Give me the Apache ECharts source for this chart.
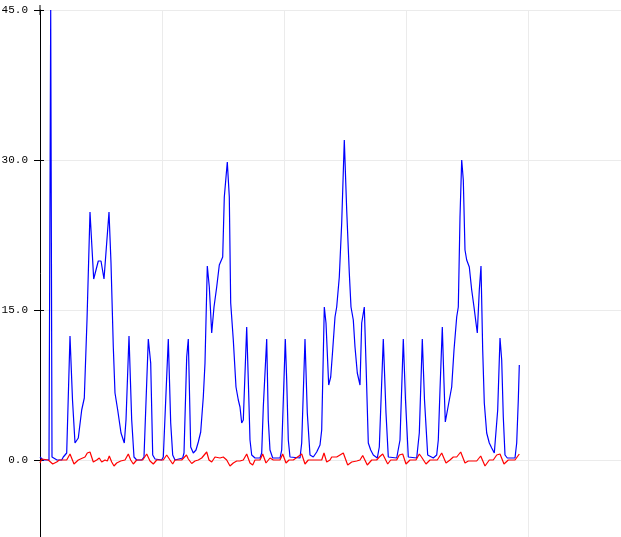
<!DOCTYPE html>
<html>
<head>
<meta charset="utf-8">
<script src="https://cdn.jsdelivr.net/npm/echarts@6/dist/echarts.min.js"></script>
<style>
html,body{margin:0;padding:0;background:#fff;}
#chart{width:621px;height:537px;}
</style>
</head>
<body>
<div id="chart"></div>
<script>
// y-axis tick values (labels formatted with one decimal)
var yTicks = [0, 15, 30, 45];

// blue series
var blueX = [0,3,9,10.7,12,14,17,21.7,23.3,25,26.7,30,32.5,35,38.3,41.7,44.3,47,50,53.7,55.7,58.3,61,64,65.7,69,71,73.3,75,77.7,81,84.3,86,89,91.7,94,96.7,101.7,104,108.3,110.7,112.7,115,121.7,123.3,128.3,130.7,132.7,135,142.7,144,146.7,148.3,150.7,153.3,156,158.3,160.7,163.3,165,167.3,169.3,171.7,174,176.7,179.3,182.7,184.3,187.3,189.3,190.7,193.3,196,198.3,200,201.7,203.3,206.7,208.3,210,211.7,215,220,221.7,223.3,226.7,228.3,230,232.7,240,241.7,245.3,246.7,248.3,250,260,261.7,265,267.3,270,273.3,276.7,280,281.7,284.3,286,288.7,290.7,292.7,295,296.7,299.3,301.7,304.3,306.7,309.3,311,313.3,315,317.3,320,321.7,324.3,326,328.3,330.7,333.3,337.3,339.3,343.3,346,348.3,356.7,360,363.3,365.5,368.3,376.7,379.3,382.3,384.5,387.7,393.3,396.7,398.3,400,402.3,404,405.3,407.3,409.3,411.7,414,416.7,418.3,420,421.7,423.3,425,426.7,429.3,431.7,434,436,437.3,439.3,441,442.7,444.3,446.7,449.3,451.7,454.3,456,457.7,460,461.7,463.3,465,467.3,475,476.7,478.3,479.3];
var blueY = [0.3,0,0,45,0.3,0.2,0,0,0.3,0.1,0.7,12.4,6,1.7,2.2,5,6.2,14,24.8,18.1,18.1,19.9,19.9,18.1,18.1,24.8,19.7,11.3,6.7,5,2.7,1.7,4,12.4,4,0.3,0,0,0.3,12.1,9.7,0.5,0.1,0,0.3,12.1,3.7,0.5,0,0.2,0.7,10.3,12.1,1.3,0.7,1,1.8,2.8,6.3,9.7,19.4,17.3,12.7,15.3,17.3,19.5,20.3,26.3,29.8,26.3,15.7,12,7.3,6,5.3,3.7,4,13.3,8,2,0.5,0.2,0.2,0.7,5.3,12.1,4,1,0.2,0.2,1,12.1,8,2,0.3,0.2,1.7,12.1,4.7,0.5,0.3,0.8,1.5,3,15.3,13.7,7.5,8.3,11,14.3,15.3,18.3,23.7,32,25,18.7,15.3,14,11.3,8.7,7.5,13.7,15.3,9.7,1.7,1,0.5,0.2,1.3,12.1,4.7,0.3,0.2,2,12.1,6,0.3,0.2,2.7,12.1,6,0.5,0.2,0.5,2,7,13.3,7.7,3.8,3.7,6,7.3,11,14.3,15.3,24.3,30,28,21,20,19.3,17,15.3,13.7,12.7,17,19.4,11,5.7,2.7,1.7,1.2,0.7,0.7,5,12.2,10,4.3,0.5,0.2,0.2,1.7,6,9.5];

// red series
var redX = [0,1.7,8.3,12.7,16.7,19.3,26.7,30,34,38.3,42.7,45,47.3,50,53.3,56.7,59.3,61.7,65,67.3,69.3,71.7,74,76.7,80.7,85,88.3,90.7,93.3,96.7,102.7,106.7,110,113.3,116.7,123.3,126.7,130,132.7,135,141.7,146.5,148.3,151.7,155,158.3,161.7,166.7,169,171.7,175,180,183.3,186.7,190,193.3,196.7,200,203.3,206.7,210,212.7,215,220,222.7,226,230,233.3,240,242.7,246,249,253.3,261.7,265,268.3,281.7,284,286.7,290,291.7,296.7,303.3,307.7,311.7,316.7,320,322.7,327.3,331.7,336.7,339.3,342.7,347.7,350.7,356.7,359.3,362.7,366,370,376,379.3,381.5,386,390,397.3,401.7,406,410,413.3,416.7,420.7,425,428.3,436.7,440.7,445,449.3,453.3,456.7,460,464,468.3,475,479.3];
var redY = [-0.3,0.1,0,-0.4,-0.2,0,0,0.6,-0.4,0,0.2,0.3,0.7,0.8,-0.2,0,0.2,-0.2,0,-0.1,0.4,-0.2,-0.6,-0.3,-0.1,0,0.6,0,-0.4,0,0,0.6,-0.1,-0.4,0,0,0.5,0,-0.4,0,0,0.5,0.1,-0.35,-0.1,0,0.2,0.8,0,-0.2,0.3,0.2,0.3,0,-0.6,-0.3,-0.1,-0.1,0,0.6,-0.3,-0.5,0,0,0.6,-0.3,0.2,0,0,0.6,-0.3,0,0,0.6,-0.4,0,0,0.7,-0.2,0,0.3,0.3,0.7,-0.5,-0.2,-0.1,0,0.45,-0.5,0,0,0.3,0.6,-0.4,0,0,0.5,0.6,-0.4,0,0,0.6,0.3,-0.4,0,0,0.7,-0.3,0,0.3,0.3,0.8,-0.3,-0.1,-0.1,0.4,-0.6,0,0,0.5,0.6,-0.4,0,0,0.6];

function pairs(xs, ys) {
  var out = [];
  for (var i = 0; i < xs.length; i++) out.push([xs[i], ys[i]]);
  return out;
}

var chart = echarts.init(document.getElementById('chart'), null, {renderer: 'canvas'});
var gridColor = '#ebebeb';
chart.setOption({
  animation: false,
  backgroundColor: '#ffffff',
  grid: {left: 40, top: 10, width: 591, height: 600, containLabel: false, outerBoundsMode: 'none'},
  xAxis: {
    type: 'value', min: 0, max: 591, interval: 122,
    axisLine: {show: false}, axisTick: {show: false}, axisLabel: {show: false},
    splitLine: {show: true, lineStyle: {color: gridColor, width: 1}}
  },
  yAxis: [{
    type: 'value', min: -15, max: 45, interval: 15, position: 'left',
    axisLine: {show: true, onZero: false, symbol: ['none', 'rect'], symbolSize: [1, 10],
      lineStyle: {color: '#000', width: 1}},
    axisTick: {show: true, inside: false, length: 6, lineStyle: {color: '#000', width: 1}},
    axisLabel: {show: true, margin: 12, color: '#000', fontFamily: 'Liberation Mono', fontSize: 11,
      formatter: function (v) { return yTicks.indexOf(v) >= 0 ? v.toFixed(1) : ''; }},
    splitLine: {show: true, lineStyle: {color: gridColor, width: 1}}
  }, {
    type: 'value', min: -15, max: 45, interval: 15, position: 'left', offset: 0,
    axisLine: {show: false},
    axisTick: {show: true, inside: true, length: 4, lineStyle: {color: '#000', width: 1}},
    axisLabel: {show: false},
    splitLine: {show: false}
  }],
  series: [{
    type: 'line', data: pairs(blueX, blueY), showSymbol: false, symbol: 'none',
    lineStyle: {color: '#0000ff', width: 1.2}, itemStyle: {color: '#0000ff'}, clip: true, z: 2
  }, {
    type: 'line', data: pairs(redX, redY), showSymbol: false, symbol: 'none',
    lineStyle: {color: '#ff0000', width: 1.2}, itemStyle: {color: '#ff0000'}, clip: true, z: 3
  }]
});
</script>
</body>
</html>
